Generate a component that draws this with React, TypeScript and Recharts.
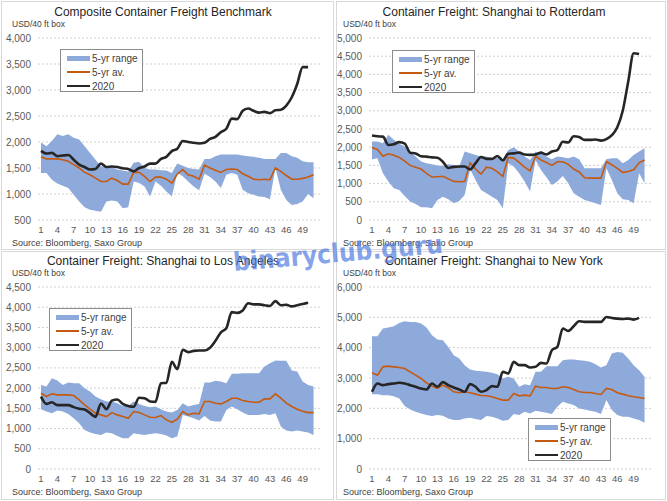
import React from "react"
import { ComposedChart, Area, Line, XAxis, YAxis, CartesianGrid } from "recharts"

// week numbers on the category axis
const weeks = [
  1, 2, 3, 4, 5, 6, 7, 8, 9, 10, 11, 12, 13, 14, 15, 16, 17, 18, 19, 20, 21, 22, 23, 24, 25, 26,
  27, 28, 29, 30, 31, 32, 33, 34, 35, 36, 37, 38, 39, 40, 41, 42, 43, 44, 45, 46, 47, 48, 49, 50, 51, 52,
]

// Composite Container Freight Benchmark
const compHigh = [
  1990, 1920, 2020, 2150, 2115, 2150, 2080, 2050, 1920, 1790, 1660, 1530, 1530, 1510, 1470, 1450, 1435,
  1600, 1620, 1500, 1470, 1470, 1455, 1450, 1405, 1585, 1545, 1500, 1480, 1470, 1675, 1675, 1725, 1760,
  1760, 1760, 1760, 1740, 1725, 1715, 1695, 1675, 1675, 1675, 1790, 1790, 1725, 1695, 1630, 1610, 1610,
]
const compLow = [
  1405, 1405, 1275, 1200, 1160, 1115, 985, 855, 745, 695, 680, 660, 855, 875, 855, 725, 745, 1240, 1210,
  1145, 950, 1240, 1160, 1050, 950, 1405, 1340, 1240, 1145, 1070, 1390, 1325, 1240, 1115, 1370, 1405,
  1370, 1080, 1015, 985, 950, 940, 900, 1500, 1080, 885, 790, 810, 855, 1000, 920,
]
const compAvg = [
  1715, 1675, 1675, 1675, 1660, 1630, 1565, 1500, 1415, 1370, 1305, 1240, 1240, 1305, 1260, 1190, 1190,
  1415, 1415, 1340, 1240, 1325, 1325, 1285, 1210, 1385, 1470, 1370, 1340, 1285, 1555, 1500, 1455, 1415,
  1470, 1480, 1470, 1390, 1340, 1285, 1275, 1285, 1275, 1500, 1435, 1355, 1285, 1285, 1300, 1325, 1370,
]
const comp2020 = [
  1830, 1778, 1790, 1727, 1740, 1750, 1660, 1565, 1520, 1470, 1480, 1585, 1520, 1530, 1520, 1495, 1480,
  1435, 1500, 1530, 1585, 1585, 1675, 1715, 1825, 1870, 2020, 2000, 1985, 1970, 1985, 2060, 2100, 2190,
  2255, 2450, 2440, 2600, 2645, 2600, 2565, 2580, 2555, 2610, 2620, 2700, 2860, 3115, 3440, 3440,
]

// Shanghai to Rotterdam
const rotHigh = [
  2156, 2156, 2110, 2339, 2202, 2092, 2018, 1881, 1743, 1605, 1560, 1532, 1495, 1486, 1532, 1514, 1468,
  1881, 1835, 1789, 1743, 1743, 1697, 1716, 1670, 1926, 2000, 1881, 1743, 1651, 1881, 1835, 1743, 1670,
  1743, 1725, 1697, 1743, 1670, 1422, 1422, 1422, 1422, 1670, 1697, 1697, 1560, 1651, 1789, 1881, 1972,
]
const rotLow = [
  1670, 1697, 1284, 1055, 872, 826, 660, 505, 440, 349, 349, 321, 550, 642, 569, 459, 523, 688, 1394,
  1101, 826, 734, 642, 550, 321, 1560, 1468, 1284, 1055, 780, 1651, 1376, 1174, 963, 1055, 1211, 1009,
  734, 642, 550, 505, 459, 413, 1422, 1101, 734, 569, 550, 459, 1284, 1009,
]
const rotAvg = [
  1990, 1940, 1750, 1820, 1780, 1720, 1620, 1500, 1450, 1400, 1280, 1180, 1190, 1200, 1130, 1060, 1050,
  1060, 1570, 1400, 1260, 1450, 1420, 1320, 1200, 1720, 1700, 1580, 1450, 1350, 1750, 1650, 1580, 1500,
  1600, 1600, 1530, 1400, 1320, 1160, 1150, 1150, 1150, 1600, 1520, 1420, 1310, 1330, 1380, 1570, 1650,
]
const rot2020 = [
  2320, 2300, 2290, 2060, 2080, 2140, 2100, 1850, 1830, 1750, 1740, 1720, 1710, 1600, 1430, 1460, 1470,
  1470, 1390, 1560, 1730, 1680, 1680, 1760, 1640, 1820, 1830, 1850, 1800, 1790, 1800, 1850, 1800, 1880,
  1920, 2150, 2130, 2300, 2280, 2200, 2200, 2210, 2180, 2220, 2330, 2550, 3000, 3800, 4580, 4560,
]

// Shanghai to Los Angeles
const laHigh = [
  2080, 2040, 2246, 2188, 2080, 2139, 2122, 2122, 1998, 1916, 1792, 1726, 1668, 1668, 1627, 1560, 1560,
  1668, 1610, 1560, 1528, 1544, 1478, 1420, 1395, 1461, 1627, 1544, 1585, 1610, 2139, 2139, 2180, 2163,
  2122, 2353, 2353, 2370, 2370, 2370, 2370, 2535, 2617, 2683, 2675, 2675, 2436, 2411, 2163, 2080, 2040,
]
const laLow = [
  1478, 1420, 1379, 1445, 1420, 1362, 1255, 1131, 966, 900, 867, 842, 900, 884, 817, 760, 760, 884, 859,
  842, 867, 884, 867, 826, 760, 801, 1338, 1296, 1255, 1197, 1313, 1197, 1172, 1172, 1461, 1544, 1478,
  1395, 1338, 1338, 1338, 1362, 1338, 1379, 1049, 950, 925, 950, 925, 900, 842,
]
const laAvg = [
  1874, 1792, 1858, 1833, 1833, 1833, 1817, 1709, 1585, 1478, 1379, 1338, 1296, 1395, 1338, 1296, 1255,
  1420, 1395, 1338, 1280, 1272, 1321, 1214, 1156, 1230, 1420, 1338, 1379, 1362, 1668, 1668, 1627, 1610,
  1668, 1750, 1750, 1693, 1668, 1651, 1651, 1734, 1734, 1858, 1750, 1627, 1544, 1478, 1428, 1395, 1395,
]
const la2020 = [
  1790, 1610, 1650, 1580, 1580, 1580, 1530, 1490, 1470, 1380, 1290, 1620, 1480, 1690, 1720, 1610, 1560,
  1540, 1760, 1750, 1670, 1660, 2120, 2130, 2650, 2470, 2950, 2890, 2920, 2930, 2930, 3000, 3170, 3380,
  3480, 3880, 3860, 3920, 4100, 4070, 4070, 4050, 4030, 4150, 4050, 4060, 4020, 4050, 4080, 4110,
]

// Shanghai to New York
const nyHigh = [
  4377, 4377, 4630, 4662, 4706, 4816, 4871, 4849, 4849, 4794, 4662, 4410, 4267, 4245, 4026, 3752, 3642,
  3423, 3280, 3236, 3225, 3203, 3170, 3126, 2984, 3039, 2984, 2710, 2797, 2764, 3203, 3203, 3390, 3390,
  3390, 3587, 3609, 3609, 3587, 3565, 3532, 3456, 3346, 3423, 3807, 3861, 3829, 3642, 3423, 3258, 3039,
]
const nyLow = [
  2468, 2468, 2435, 2435, 2402, 2326, 2073, 1964, 1887, 1832, 1777, 1744, 1777, 1755, 1667, 1613, 1613,
  1667, 1689, 1646, 1613, 1744, 1722, 1667, 1591, 1613, 1810, 1777, 1887, 1832, 1920, 1887, 1854, 1810,
  2051, 2216, 2161, 2106, 1997, 1964, 1920, 1887, 1810, 2271, 1942, 1777, 1722, 1722, 1667, 1613, 1525,
]
const nyAvg = [
  3170, 3094, 3368, 3390, 3368, 3346, 3313, 3203, 3094, 2984, 2841, 2732, 2655, 2764, 2677, 2545, 2512,
  2545, 2512, 2468, 2424, 2413, 2380, 2326, 2271, 2271, 2490, 2413, 2435, 2413, 2732, 2688, 2688, 2655,
  2655, 2710, 2688, 2622, 2545, 2523, 2523, 2490, 2457, 2655, 2622, 2512, 2468, 2413, 2380, 2358, 2326,
]
const ny2020 = [
  2545, 2820, 2764, 2797, 2820, 2841, 2820, 2764, 2710, 2655, 2622, 2820, 2710, 2863, 2764, 2688, 2622,
  2545, 2797, 2710, 2545, 2600, 2732, 2710, 3203, 3148, 3532, 3423, 3423, 3346, 3368, 3500, 3478, 3916,
  4026, 4630, 4553, 4706, 4871, 4849, 4849, 4849, 4849, 5013, 4980, 4958, 4947, 4958, 4925, 4980,
]

const compTicks = [500, 1000, 1500, 2000, 2500, 3000, 3500, 4000]
const rotTicks = [0, 500, 1000, 1500, 2000, 2500, 3000, 3500, 4000, 4500, 5000]
const laTicks = [0, 500, 1000, 1500, 2000, 2500, 3000, 3500, 4000, 4500]
const nyTicks = [0, 1000, 2000, 3000, 4000, 5000, 6000]

const RANGE = "#8eaadb"
const AVG = "#c55a11"
const CUR = "#262626"
const FONT = "'Liberation Sans', Arial, sans-serif"

function buildRows(low: number[], high: number[], avg: number[], cur: number[]) {
  return weeks.map((w, i) => ({
    week: w,
    range: i < low.length ? [low[i], high[i]] : undefined,
    avg: avg[i],
    cur: cur[i],
  }))
}

function LegendBox({ x, y }: { x: number; y: number }) {
  const row = { display: "flex", alignItems: "center", height: 14 } as const
  return (
    <div
      style={{
        position: "absolute",
        left: x,
        top: y,
        width: 83,
        height: 43,
        boxSizing: "border-box",
        border: "1px solid #8c8c8c",
        background: "#fff",
        padding: "1px 0 0 6px",
        fontFamily: FONT,
        fontSize: 10,
        color: "#404040",
      }}
    >
      <div style={row}>
        <div style={{ width: 23, height: 5, background: RANGE, marginRight: 2 }} />
        5-yr range
      </div>
      <div style={row}>
        <div style={{ width: 23, height: 1.6, background: AVG, marginRight: 2 }} />
        5-yr av.
      </div>
      <div style={row}>
        <div style={{ width: 23, height: 2.6, background: CUR, marginRight: 2 }} />
        2020
      </div>
    </div>
  )
}

interface PanelProps {
  left: number
  top: number
  title: string
  low: number[]
  high: number[]
  avg: number[]
  cur: number[]
  ticks: number[]
  legend: { x: number; y: number }
}

function Panel({ left, top, title, low, high, avg, cur, ticks, legend }: PanelProps) {
  const data = buildRows(low, high, avg, cur)
  const text = { position: "absolute", fontFamily: FONT, color: "#404040" } as const
  return (
    <div style={{ position: "absolute", left, top, width: 332, height: 250 }}>
      <ComposedChart width={332} height={250} data={data} margin={{ top: 38, right: 10, bottom: 16, left: 0 }}>
        <CartesianGrid vertical={false} stroke="#d0d0d0" strokeDasharray="2 2" />
        <XAxis
          dataKey="week"
          interval={2}
          axisLine={false}
          tickLine={false}
          tickSize={0}
          tickMargin={6}
          height={14}
          padding={{ left: 3, right: 3 }}
          tickFormatter={(v) => (v === 52 ? "" : String(v))}
          tick={{ fontSize: 9.5, fill: "#595959", fontFamily: FONT }}
        />
        <YAxis
          type="number"
          domain={[ticks[0], ticks[ticks.length - 1]]}
          ticks={ticks}
          interval={0}
          width={38}
          axisLine={false}
          tickLine={false}
          tickSize={0}
          tickMargin={7}
          tickFormatter={(v: number) => v.toLocaleString("en-US")}
          tick={{ fontSize: 10, fill: "#595959", fontFamily: FONT }}
        />
        <Area
          dataKey="range"
          type="linear"
          stroke="none"
          fill={RANGE}
          fillOpacity={1}
          isAnimationActive={false}
        />
        <Line dataKey="avg" type="linear" stroke={AVG} strokeWidth={1.6} dot={false} isAnimationActive={false} />
        <Line dataKey="cur" type="monotone" stroke={CUR} strokeWidth={2.6} dot={false} isAnimationActive={false} />
      </ComposedChart>
      <div style={{ ...text, left: 0, width: 326, top: 5, textAlign: "center", fontSize: 12, color: "#262626" }}>
        {title}
      </div>
      <div style={{ ...text, left: 12, top: 19, fontSize: 8.5 }}>USD/40 ft box</div>
      <div style={{ ...text, left: 12, top: 238, fontSize: 9 }}>Source: Bloomberg, Saxo Group</div>
      <LegendBox x={legend.x} y={legend.y} />
    </div>
  )
}

const border = (left: number, top: number, width: number, height: number) => (
  <div
    style={{
      position: "absolute",
      left,
      top,
      width,
      height,
      boxSizing: "border-box",
      border: "1px solid #d9d9d9",
    }}
  />
)

export default function App() {
  return (
    <div style={{ position: "relative", width: 667, height: 501, background: "#fff", overflow: "hidden" }}>
      <style>{`body{margin:0}`}</style>
      {border(1, 1, 333, 249)}
      {border(336, 1, 330, 249)}
      {border(1, 251, 333, 249)}
      {border(336, 251, 330, 249)}
      <Panel
        left={0}
        top={0}
        title="Composite Container Freight Benchmark"
        low={compLow}
        high={compHigh}
        avg={compAvg}
        cur={comp2020}
        ticks={compTicks}
        legend={{ x: 60, y: 49 }}
      />
      <Panel
        left={331}
        top={0}
        title="Container Freight: Shanghai to Rotterdam"
        low={rotLow}
        high={rotHigh}
        avg={rotAvg}
        cur={rot2020}
        ticks={rotTicks}
        legend={{ x: 61, y: 50 }}
      />
      <Panel
        left={0}
        top={249}
        title="Container Freight: Shanghai to Los Angeles"
        low={laLow}
        high={laHigh}
        avg={laAvg}
        cur={la2020}
        ticks={laTicks}
        legend={{ x: 49, y: 59 }}
      />
      <Panel
        left={331}
        top={249}
        title="Container Freight: Shanghai to New York"
        low={nyLow}
        high={nyHigh}
        avg={nyAvg}
        cur={ny2020}
        ticks={nyTicks}
        legend={{ x: 197, y: 169 }}
      />
      <svg width={667} height={501} style={{ position: "absolute", left: 0, top: 0, pointerEvents: "none" }}>
        <text
          x={338}
          y={262}
          textAnchor="middle"
          textLength={210}
          lengthAdjust="spacingAndGlyphs"
          transform="rotate(-5 338 254)"
          fontFamily="'DejaVu Sans', sans-serif"
          fontWeight="bold"
          fontSize={26}
          fill="#4f7be0"
          fillOpacity={0.7}
        >
          binaryclub.guru
        </text>
      </svg>
    </div>
  )
}
